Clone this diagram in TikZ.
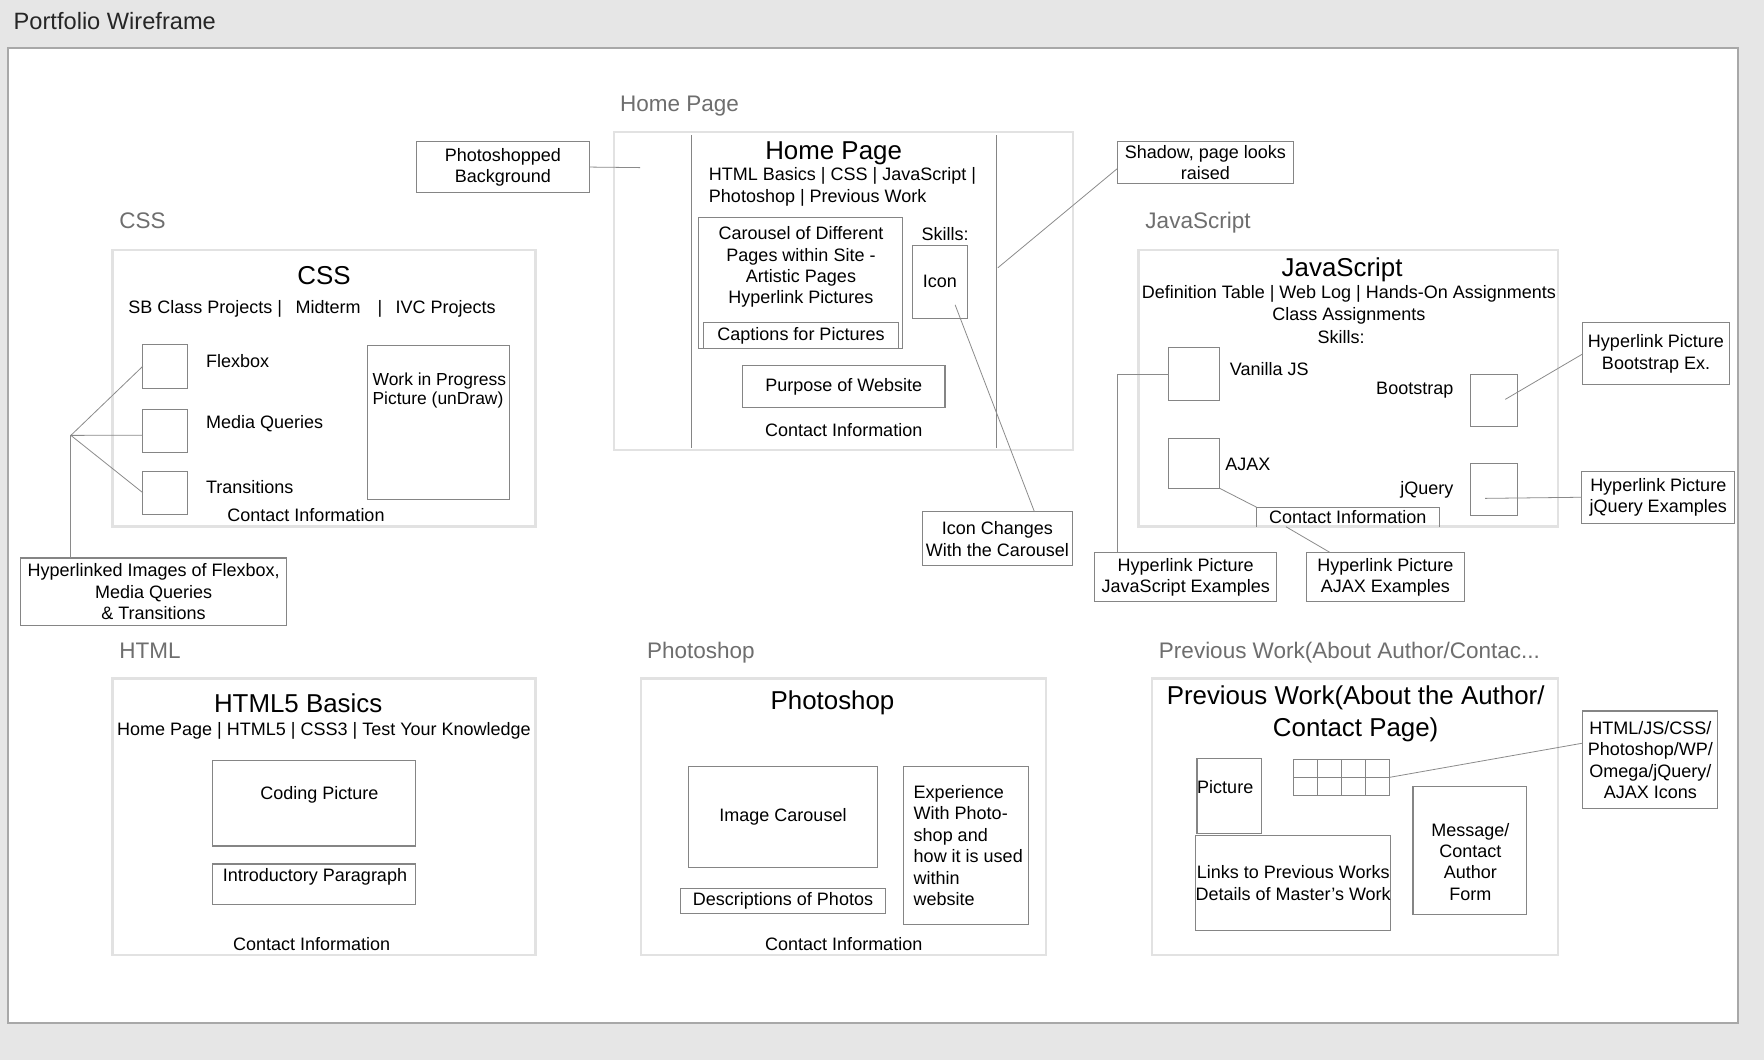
\documentclass[tikz,border=0pt]{standalone}
\usepackage{fontspec}
\setmainfont{Liberation Sans}
\definecolor{bggray}{HTML}{E6E6E6}
\definecolor{framegray}{HTML}{A8A8A8}
\definecolor{grpgray}{HTML}{E2E2E2}
\definecolor{boxgray}{HTML}{858585}
\definecolor{conngray}{HTML}{8A8A8A}
\definecolor{labgray}{HTML}{6E6E6E}
\tikzset{
  box/.style={draw=boxgray,line width=1pt,inner sep=0pt,outer sep=0pt,align=center,font=\fontsize{16}{19}\selectfont},
  grp/.style={draw=grpgray,line width=2pt,inner sep=0pt,outer sep=0pt},
  txt/.style={font=\fontsize{16}{19}\selectfont,inner sep=0pt,align=center},
  ttl/.style={font=\fontsize{23}{28}\selectfont,inner sep=0pt,align=center},
  glabel/.style={font=\fontsize{20}{24}\selectfont,text=labgray,inner sep=0pt,anchor=west},
  conn/.style={draw=conngray,line width=0.7pt},
}
\begin{document}
\begin{tikzpicture}[x=1pt,y=-1pt]
\useasboundingbox (0,0) rectangle (1568,942);
\fill[bggray] (0,0) rectangle (1568,942);
\draw[framegray,line width=2pt,fill=white] (7,43) rectangle (1545,909);
\node [glabel,font=\fontsize{21}{25}\selectfont,text=black!85,name=title] at (12,19){Portfolio Wireframe};

% home page
\node [glabel,name=hplab] at (551,94.5){Home Page};
\node [grp,minimum width=408,minimum height=283,name=hp] at (750,258.5){};
\draw[box] (615,120) -- (615,398);
\draw[box] (886,120) -- (886,398);
\node [ttl,name=hptitle] at (741,136.5){Home Page};
\node [txt,align=left,anchor=west,name=hpnav] at (630,166){HTML Basics | CSS | JavaScript |\\Photoshop | Previous Work};
\node [box,minimum width=181,minimum height=117,name=carousel] at (711.5,251.5){};
\node [txt,name=carouseltxt] at (712,237.5){Carousel of Different\\Pages within Site -\\Artistic Pages\\Hyperlink Pictures};
\node [box,minimum width=174,minimum height=23,name=captions] at (712,298.5){Captions for Pictures};
\node [txt,name=skills] at (840,208){Skills:};
\node [box,minimum width=49,minimum height=65,name=icon] at (835.5,250.5){Icon};
\node [box,minimum width=180,minimum height=37,name=purpose] at (750,343.5){Purpose of Website};
\node [txt,name=hpcontact] at (750,382){Contact Information};

\node [box,minimum width=154,minimum height=45,name=psbg] at (447,148.5){Photoshopped\\Background};
\coordinate (psbgend) at (569,149);
\draw[conn] (psbg.east) -- (psbgend);
\node [box,minimum width=157,minimum height=37,name=shadow] at (1071.5,144.5){Shadow, page looks\\raised};
\coordinate (shadowend) at (887,238);
\draw[conn] (shadow.184) -- (shadowend);
\node [box,minimum width=133,minimum height=48,name=iconchg] at (886.5,479){Icon Changes\\With the Carousel};
\coordinate (icontap) at (849,271);
\draw[conn] (icontap) -- (iconchg.36);

% css
\node [glabel,name=csslab] at (106,196.5){CSS};
\node [grp,minimum width=376,minimum height=246,name=css] at (288,345){};
\node [ttl,name=csstitle] at (288,245){CSS};
\node [txt,anchor=west,name=cssnav] at (114,275){SB Class Projects |\hspace{12pt}Midterm\hspace{15pt}|\hspace{12pt}IVC Projects};
\node [box,minimum width=40,minimum height=39,name=flex] at (147,325.5){};
\node [txt,anchor=west,name=flextxt] at (183,321){Flexbox};
\node [box,minimum width=40,minimum height=38,name=mq] at (147,383){};
\node [txt,anchor=west,name=mqtxt] at (183,377){Media Queries};
\node [box,minimum width=40,minimum height=38,name=trans] at (147,438){};
\node [txt,anchor=west,name=transtxt] at (183,433){Transitions};
\node [box,minimum width=126,minimum height=137,name=wip] at (390,375.5){};
\node [txt,align=left,anchor=north west,font=\fontsize{15.5}{17}\selectfont,name=wiptxt] at (331,331){Work in Progress\\Picture (unDraw)};
\node [txt,name=csscontact] at (272,458){Contact Information};
\node [box,minimum width=237,minimum height=60,name=cssimg] at (136.5,526){Hyperlinked Images of Flexbox,\\Media Queries\\\& Transitions};
\coordinate (csshub) at (63,387);
\draw[conn] (csshub) -- (flex.west);
\draw[conn] (csshub) -- (mq.191);
\draw[conn] (csshub) -- (trans.west);
\draw[conn] (csshub) -- (csshub |- cssimg.north);

% javascript
\node [glabel,name=jslab] at (1018,197.5){JavaScript};
\node [grp,minimum width=373,minimum height=246,name=js] at (1198.5,345){};
\node [ttl,name=jstitle] at (1193,240){JavaScript};
\node [txt,name=jsnav] at (1199,271){Definition Table | Web Log | Hands-On Assignments\\Class Assignments};
\node [txt,name=jsskills] at (1192,300){Skills:};
\node [box,minimum width=45,minimum height=47,name=vanilla] at (1061.5,332.5){};
\node [txt,anchor=west,name=vanillatxt] at (1093,328){Vanilla JS};
\node [box,minimum width=42,minimum height=46,name=bootstrap] at (1328,356){};
\node [txt,anchor=east,name=bootstraptxt] at (1292,347){Bootstrap};
\node [box,minimum width=45,minimum height=44,name=ajax] at (1061.5,412){};
\node [txt,anchor=west,name=ajaxtxt] at (1089,413){AJAX};
\node [box,minimum width=42,minimum height=46,name=jquery] at (1328,435){};
\node [txt,anchor=east,name=jquerytxt] at (1292,435){jQuery};
\node [txt,minimum width=162,minimum height=17,name=jscontact] at (1198,459.5){Contact Information};
\draw[box] (jscontact.south west) |- (jscontact.north east) -- (jscontact.south east);
\node [box,minimum width=162,minimum height=44,name=jsex] at (1054,513){Hyperlink Picture\\JavaScript Examples};
\node [box,minimum width=141,minimum height=44,name=ajaxex] at (1231.5,513){Hyperlink Picture\\AJAX Examples};
\node [box,minimum width=130,minimum height=55,name=bsex] at (1472,314.5){Hyperlink Picture\\Bootstrap Ex.};
\node [box,minimum width=136,minimum height=46,name=jqex] at (1474,442){Hyperlink Picture\\jQuery Examples};
\coordinate (jsbend) at (993,491);
\draw[conn] (vanilla.west) -| (jsbend);
\draw[conn] (ajax.south east) -- (jscontact.north west);
\draw[conn] (jscontact.189) -- (ajaxex.156);
\coordinate (bstap) at (1338,355);
\draw[conn] (bstap) -- (bsex.west);
\coordinate (jqtap) at (1320,443);
\draw[conn] (jqtap) -- (jqex.west);

% html
\node [glabel,name=htmllab] at (106,578.5){HTML};
\node [grp,minimum width=376,minimum height=246,name=html] at (288,726){};
\node [ttl,name=htmltitle] at (265,625){HTML5 Basics};
\node [txt,name=htmlnav] at (288,649.5){Home Page | HTML5 | CSS3 | Test Your Knowledge};
\node [box,minimum width=180,minimum height=76,name=coding] at (279,714){};
\node [txt,name=codingtxt] at (284,706.5){Coding Picture};
\node [box,minimum width=180,minimum height=36,name=intro] at (279,786){};
\node [txt,name=introtxt] at (280,779.5){Introductory Paragraph};
\node [txt,name=htmlcontact] at (277,839){Contact Information};

% photoshop
\node [glabel,name=pslab] at (575,580){Photoshop};
\node [grp,minimum width=360,minimum height=246,name=ps] at (750,726){};
\node [ttl,name=pstitle] at (740,624.5){Photoshop};
\node [box,minimum width=168,minimum height=90,name=imgcar] at (696,726){Image Carousel};
\node [box,minimum width=182,minimum height=22,name=desc] at (696,801){Descriptions of Photos};
\node [box,minimum width=111,minimum height=141,name=exp] at (858.5,751.5){};
\node [txt,align=left,anchor=north west,name=exptxt] at (812,698){Experience\\With Photo-\\shop and\\how it is used\\within\\website};
\node [txt,name=pscontact] at (750,839){Contact Information};

% previous work
\node [glabel,name=prevlab] at (1030,580){Previous Work(About Author/Contac...};
\node [grp,minimum width=361,minimum height=246,name=prev] at (1204.5,726){};
\node [ttl,name=prevtitle] at (1205,634.5){Previous Work(About the Author/\\Contact Page)};
\node [box,minimum width=57,minimum height=67,name=pic] at (1092.5,707.5){};
\node [txt,anchor=west,name=pictxt] at (1064,700){Picture};
\node [box,minimum width=85,minimum height=32,name=grid] at (1192.5,691){};
\draw[box] (grid.west) -- (grid.east);
\draw[box] (grid.north) -- (grid.south);
\draw[box] (1171.25,675) -- (1171.25,707);
\draw[box] (1213.75,675) -- (1213.75,707);
\node [box,minimum width=171,minimum height=84,name=links] at (1149.5,785){Links to Previous Works\\Details of Master’s Work};
\node [box,minimum width=101,minimum height=114,name=msg] at (1306.5,756){};
\node [txt,name=msgtxt] at (1307,766){Message/\\Contact\\Author\\Form};
\node [box,minimum width=120,minimum height=87,name=icons] at (1467,675.5){HTML/JS/CSS/\\Photoshop/WP/\\Omega/jQuery/\\AJAX Icons};
\draw[conn] (grid.east) -- (icons.166);
\end{tikzpicture}
\end{document}
